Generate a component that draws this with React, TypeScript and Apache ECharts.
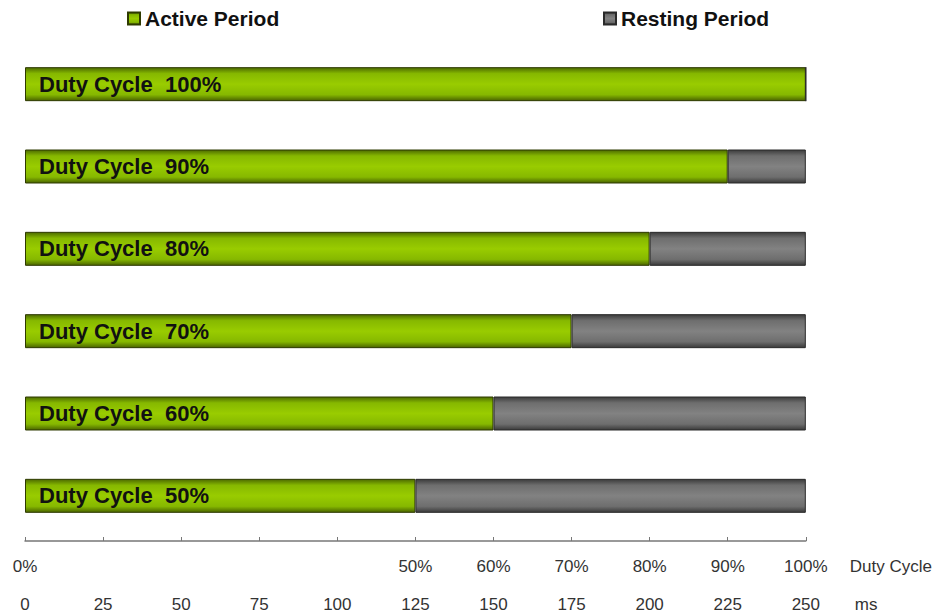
import React, { useEffect, useRef } from "react";
import * as echarts from "echarts";

const categories = [
  "Duty Cycle  100%",
  "Duty Cycle  90%",
  "Duty Cycle  80%",
  "Duty Cycle  70%",
  "Duty Cycle  60%",
  "Duty Cycle  50%",
];
const activeMs = [250, 225, 200, 175, 150, 125];
const restingMs = [0, 25, 50, 75, 100, 125];
const msTicks = [0, 25, 50, 75, 100, 125, 150, 175, 200, 225, 250];
const dutyTickLabels = ["0%", "", "", "", "", "50%", "60%", "70%", "80%", "90%", "100%"];

const axisFont = "'Liberation Sans', Arial, sans-serif";
const mainFont = "'Liberation Sans', Arial, sans-serif";

const greenGrad = new echarts.graphic.LinearGradient(0, 0, 0, 1, [
  { offset: 0, color: "#4d6b00" },
  { offset: 0.18, color: "#86b800" },
  { offset: 0.5, color: "#99cc00" },
  { offset: 0.82, color: "#86b800" },
  { offset: 1, color: "#4a6400" },
]);
const greyGrad = new echarts.graphic.LinearGradient(0, 0, 0, 1, [
  { offset: 0, color: "#3c3c3c" },
  { offset: 0.18, color: "#6e6e6e" },
  { offset: 0.5, color: "#828282" },
  { offset: 0.82, color: "#6e6e6e" },
  { offset: 1, color: "#3a3a3a" },
]);

export default function App() {
  const ref = useRef<HTMLDivElement>(null);
  useEffect(() => {
    const chart = echarts.init(ref.current!, null, { renderer: "svg" });
    const tickIndex = (v: number) => msTicks.indexOf(v);
    const legendText = { fontSize: 21, fontWeight: "bold", color: "#111", fontFamily: mainFont };
    const axisText = { fontSize: 17, color: "#333", fontFamily: axisFont };
    chart.setOption({
      animation: false,
      backgroundColor: "#ffffff",
      legend: [
        {
          data: ["Active Period"],
          left: 127,
          top: 8,
          padding: 0,
          icon: "rect",
          itemWidth: 12,
          itemHeight: 12,
          itemGap: 6,
          textStyle: legendText,
        },
        {
          data: ["Resting Period"],
          left: 603,
          top: 8,
          padding: 0,
          icon: "rect",
          itemWidth: 12,
          itemHeight: 12,
          itemGap: 6,
          textStyle: legendText,
        },
      ],
      grid: { left: 25, right: 129, top: 43, height: 494, containLabel: false },
      xAxis: [
        {
          type: "value",
          min: 0,
          max: 250,
          interval: 25,
          offset: 4,
          splitLine: { show: false },
          axisLine: { show: true, lineStyle: { color: "#777", width: 1.5 } },
          axisTick: { show: true, inside: true, length: 4, lineStyle: { color: "#777" } },
          axisLabel: {
            margin: 17,
            ...axisText,
            formatter: (v: number) => {
              const i = tickIndex(v);
              return i >= 0 ? dutyTickLabels[i] : "";
            },
          },
          name: "Duty Cycle",
          nameLocation: "end",
          nameGap: 44,
          nameTextStyle: {
            ...axisText,
            verticalAlign: "top",
            align: "left",
            padding: [17, 0, 0, 0],
          },
        },
        {
          type: "value",
          min: 0,
          max: 250,
          interval: 25,
          position: "bottom",
          offset: 42,
          splitLine: { show: false },
          axisLine: { show: false },
          axisTick: { show: false },
          axisLabel: {
            margin: 17,
            ...axisText,
            formatter: (v: number) => String(v),
          },
          name: "ms",
          nameLocation: "end",
          nameGap: 49,
          nameTextStyle: {
            ...axisText,
            verticalAlign: "top",
            align: "left",
            padding: [17, 0, 0, 0],
          },
        },
      ],
      yAxis: {
        type: "category",
        data: categories,
        inverse: true,
        axisLine: { show: false },
        axisTick: { show: false },
        axisLabel: { show: false },
        splitLine: { show: false },
      },
      series: [
        {
          name: "Active Period",
          type: "bar",
          stack: "total",
          barWidth: 34,
          data: activeMs,
          itemStyle: { color: greenGrad, borderColor: "#2e3a00", borderWidth: 1 },
          label: {
            show: true,
            position: "insideLeft",
            distance: 14,
            formatter: (p: any) => p.name,
            fontSize: 22,
            fontWeight: "bold",
            color: "#111",
            fontFamily: mainFont,
          },
        },
        {
          name: "Resting Period",
          type: "bar",
          stack: "total",
          barWidth: 34,
          data: restingMs,
          itemStyle: { color: greyGrad, borderColor: "#2a2a2a", borderWidth: 1 },
        },
      ],
    });
    return () => chart.dispose();
  }, []);
  return (
    <div
      ref={ref}
      style={{ position: "fixed", left: 0, top: 0, width: 935, height: 615 }}
    />
  );
}
